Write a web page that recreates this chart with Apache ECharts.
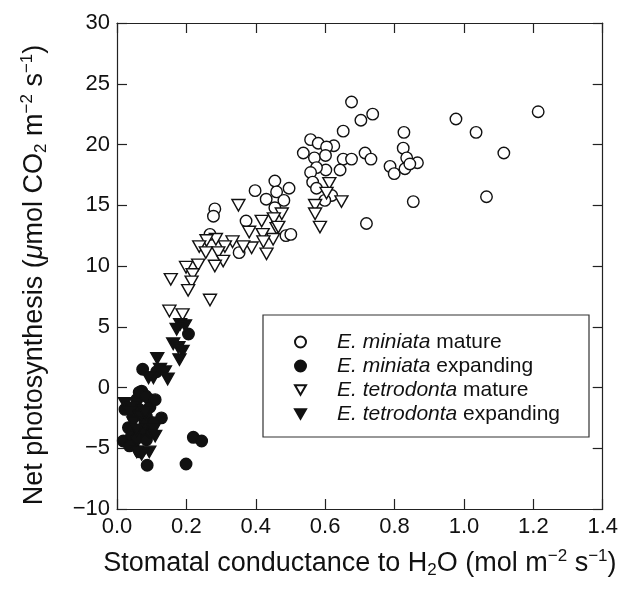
<!DOCTYPE html>
<html>
<head>
<meta charset="utf-8">
<title>Net photosynthesis vs stomatal conductance</title>
<script src="https://cdn.jsdelivr.net/npm/echarts@6/dist/echarts.min.js"></script>
<style>
  html, body { margin: 0; padding: 0; background: #fff; }
  #chart { width: 621px; height: 596px; }
</style>
</head>
<body>
<div id="chart"></div>
<script>
// [stomatal conductance, net photosynthesis]
const miniataMature = [
    [0.977, 22.1], [1.035, 21.0], [1.115, 19.3], [1.214, 22.7], [1.065, 15.7],
    [0.676, 23.5], [0.703, 22.0], [0.737, 22.5], [0.652, 21.1], [0.625, 19.9],
    [0.652, 18.8], [0.676, 18.8], [0.715, 19.3], [0.732, 18.8], [0.602, 17.9],
    [0.643, 17.9], [0.827, 21.0], [0.825, 19.7], [0.835, 18.9], [0.866, 18.5],
    [0.787, 18.2], [0.799, 17.6], [0.830, 18.0], [0.844, 18.4], [0.854, 15.3],
    [0.619, 15.8], [0.558, 20.4], [0.580, 20.1], [0.604, 19.8], [0.537, 19.3],
    [0.569, 18.9], [0.601, 19.1], [0.575, 18.1], [0.558, 17.7], [0.564, 16.9],
    [0.575, 16.4], [0.599, 15.4], [0.719, 13.5], [0.455, 17.0], [0.460, 16.1],
    [0.496, 16.4], [0.430, 15.5], [0.481, 15.4], [0.455, 14.8], [0.398, 16.2],
    [0.372, 13.7], [0.282, 14.7], [0.278, 14.1], [0.268, 12.6], [0.352, 11.1],
    [0.487, 12.5], [0.501, 12.6]
];
const miniataExpanding = [
    [0.206, 4.4], [0.074, 1.5], [0.114, 1.3], [0.071, -0.3], [0.095, -1.0],
    [0.057, -1.0], [0.023, -1.8], [0.047, -2.4], [0.085, -2.4], [0.128, -2.5],
    [0.033, -3.3], [0.076, -3.5], [0.018, -4.4], [0.047, -4.6], [0.066, -5.3],
    [0.220, -4.1], [0.244, -4.4], [0.087, -6.4], [0.199, -6.3], [0.095, -1.6],
    [0.064, -1.8], [0.042, -4.0], [0.057, -4.2], [0.085, -4.3], [0.100, -3.7],
    [0.081, -2.9], [0.105, -2.9], [0.064, -0.4], [0.083, -0.7], [0.110, -1.0],
    [0.036, -4.8]
];
const tetrodontaMature = [
    [0.612, 16.8], [0.604, 16.0], [0.647, 15.3], [0.571, 15.0], [0.571, 14.3],
    [0.585, 13.2], [0.475, 14.3], [0.452, 13.9], [0.460, 13.1], [0.450, 12.2],
    [0.465, 13.2], [0.420, 12.6], [0.350, 15.0], [0.417, 13.7], [0.381, 12.8],
    [0.422, 12.0], [0.431, 11.0], [0.388, 11.5], [0.364, 11.6], [0.333, 12.0],
    [0.311, 11.6], [0.285, 12.2], [0.258, 12.1], [0.237, 11.6], [0.256, 11.1],
    [0.292, 11.1], [0.306, 10.4], [0.282, 10.0], [0.199, 9.9], [0.234, 10.1],
    [0.218, 9.3], [0.215, 8.7], [0.205, 8.0], [0.155, 8.9], [0.268, 7.2],
    [0.151, 6.3], [0.189, 6.0]
];
const tetrodontaExpanding = [
    [0.182, 5.2], [0.196, 5.1], [0.172, 4.8], [0.162, 3.6], [0.177, 3.3],
    [0.189, 3.0], [0.180, 2.3], [0.116, 2.4], [0.124, 1.5], [0.138, 1.3],
    [0.146, 0.7], [0.105, 0.8], [0.091, 0.8], [0.023, -1.3], [0.042, -1.7],
    [0.105, -3.5], [0.110, -4.0], [0.093, -5.3], [0.071, -5.5], [0.057, -5.3],
    [0.036, -2.1], [0.066, -2.4], [0.081, -2.1], [0.047, -2.9], [0.057, -3.5]
];

const seriesNames = [
    'E. miniata mature',
    'E. miniata expanding',
    'E. tetrodonta mature',
    'E. tetrodonta expanding'
];

const xMin = 0, xMax = 1.4, xStep = 0.2;
const yMin = -10, yMax = 30, yStep = 5;

const FONT = '"Liberation Sans", Arial, sans-serif';
const INK = '#111';
const downTriangle = 'path://M0,0L2,0L1,1.75Z';

function nameRich(size) {
    const small = Math.round(size * 0.62);
    return {
        t: { fontSize: size, lineHeight: size + 4, fontFamily: FONT, color: INK },
        it: { fontSize: size, lineHeight: size + 4, fontFamily: FONT, color: INK, fontStyle: 'italic' },
        sup: { fontSize: small, lineHeight: small, fontFamily: FONT, color: INK, verticalAlign: 'top' },
        sub: { fontSize: small, lineHeight: small, fontFamily: FONT, color: INK, verticalAlign: 'bottom' }
    };
}

const axisLine = { show: true, onZero: false, lineStyle: { color: '#222', width: 1.2 } };
const axisTick = { show: true, inside: true, length: 10, lineStyle: { color: '#222', width: 1.2 } };

function scatter(name, data, symbol, filled) {
    return {
        name: name,
        type: 'scatter',
        data: data,
        symbol: symbol,
        symbolSize: symbol === 'circle' ? 11.5 : [13, 11.5],
        itemStyle: {
            color: filled ? '#111' : '#fff',
            borderColor: '#111',
            borderWidth: 1.4,
            opacity: 1
        },
        emphasis: { disabled: true }
    };
}

const chart = echarts.init(document.getElementById('chart'), null, { renderer: 'canvas' });

chart.setOption({
    animation: false,
    backgroundColor: '#fff',
    grid: { left: 117, right: 18, top: 23, bottom: 87 },
    xAxis: [
        {
            type: 'value', min: xMin, max: xMax, interval: xStep,
            axisLine: axisLine, axisTick: axisTick, splitLine: { show: false },
            axisLabel: {
                fontSize: 22, fontFamily: FONT, color: INK, margin: 7,
                formatter: v => v.toFixed(1)
            },
            name: '{t|Stomatal conductance to H}{sub|2}{t|O (mol m}{sup|\u22122}{t| s}{sup|\u22121}{t|)}',
            nameLocation: 'middle',
            nameGap: 39,
            nameTextStyle: { rich: nameRich(27) }
        },
        {
            type: 'value', position: 'top', min: xMin, max: xMax, interval: xStep,
            axisLine: axisLine, axisTick: axisTick, splitLine: { show: false },
            axisLabel: { show: false }
        }
    ],
    yAxis: [
        {
            type: 'value', min: yMin, max: yMax, interval: yStep,
            axisLine: axisLine, axisTick: axisTick, splitLine: { show: false },
            axisLabel: {
                fontSize: 22, fontFamily: FONT, color: INK, margin: 7,
                formatter: v => (v < 0 ? '\u2212' + Math.abs(v) : String(v))
            },
            name: '{t|Net photosynthesis (}{it|\u03bc}{t|mol CO}{sub|2}{t| m}{sup|\u22122}{t| s}{sup|\u22121}{t|)}',
            nameLocation: 'middle',
            nameGap: 67,
            nameTextStyle: { rich: nameRich(27), padding: [0, 18, 0, 0] }
        },
        {
            type: 'value', position: 'right', min: yMin, max: yMax, interval: yStep,
            axisLine: axisLine, axisTick: axisTick, splitLine: { show: false },
            axisLabel: { show: false }
        }
    ],
    legend: {
        orient: 'vertical',
        left: 263,
        top: 315,
        padding: [16, 29, 12, 31],
        itemWidth: 11,
        itemHeight: 11,
        itemGap: 2,
        backgroundColor: '#fff',
        borderColor: '#333',
        borderWidth: 1.2,
        borderRadius: 0,
        selectedMode: false,
        data: seriesNames,
        formatter: function (name) {
            const parts = name.split(' ');
            return '{i|' + parts[0] + ' ' + parts[1] + '} ' + parts.slice(2).join(' ');
        },
        textStyle: {
            fontSize: 21, lineHeight: 22, fontFamily: FONT, color: INK,
            padding: [0, 0, 0, 26],
            rich: {
                i: { fontSize: 21, lineHeight: 22, fontFamily: FONT, color: INK, fontStyle: 'italic' }
            }
        }
    },
    series: [
        scatter(seriesNames[0], miniataMature, 'circle', false),
        scatter(seriesNames[1], miniataExpanding, 'circle', true),
        scatter(seriesNames[2], tetrodontaMature, downTriangle, false),
        scatter(seriesNames[3], tetrodontaExpanding, downTriangle, true)
    ]
});
</script>
</body>
</html>
